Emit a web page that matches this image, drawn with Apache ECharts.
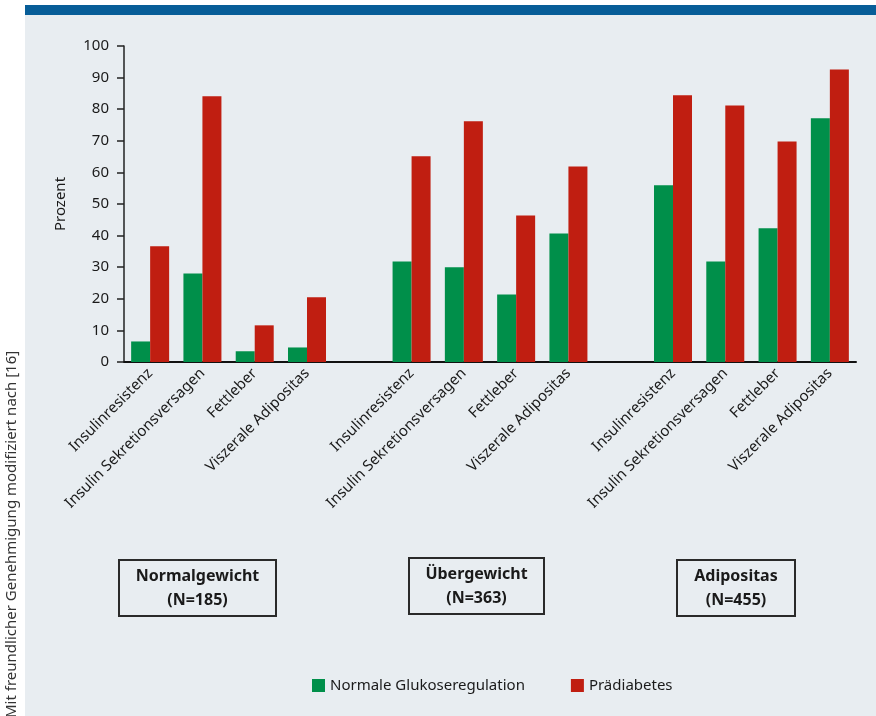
<!DOCTYPE html>
<html>
<head>
<meta charset="utf-8">
<script src="https://cdn.jsdelivr.net/npm/echarts@6/dist/echarts.min.js"></script>
<style>
html, body { margin: 0; padding: 0; background: #ffffff; }
#chart { width: 876px; height: 716px; }
</style>
</head>
<body>
<div id="chart"></div>
<script>
// Kategorien (leere Einträge = Abstand zwischen den Gruppen)
var categories = [
    'Insulinresistenz', 'Insulin Sekretionsversagen', 'Fettleber', 'Viszerale Adipositas', '',
    'Insulinresistenz', 'Insulin Sekretionsversagen', 'Fettleber', 'Viszerale Adipositas', '',
    'Insulinresistenz', 'Insulin Sekretionsversagen', 'Fettleber', 'Viszerale Adipositas'
];
var normalValues = [6.5, 28, 3.4, 4.6, '-', 31.8, 30, 21.4, 40.7, '-', 55.9, 31.8, 42.3, 77.1];
var praeValues = [36.6, 84.1, 11.6, 20.5, '-', 65.1, 76.2, 46.4, 61.9, '-', 84.4, 81.2, 69.8, 92.6];
var seriesNames = ['Normale Glukoseregulation', 'Prädiabetes'];
var groupNames = ['Normalgewicht', 'Übergewicht', 'Adipositas'];
var groupN = ['(N=185)', '(N=363)', '(N=455)'];
var yTicks = [0, 10, 20, 30, 40, 50, 60, 70, 80, 90, 100];

var fontFam = '"Noto Sans", "Open Sans", sans-serif';
var textColor = '#1a1a1a';

function groupBox(x, y, w, h, i) {
    return {
        type: 'group',
        children: [
            {
                type: 'rect',
                shape: { x: x, y: y, width: w, height: h },
                style: { fill: 'none', stroke: '#2a2a2a', lineWidth: 2 }
            },
            {
                type: 'text',
                x: x + w / 2, y: y + h / 2,
                style: {
                    text: groupNames[i] + '\n' + groupN[i],
                    font: 'bold 16px ' + fontFam,
                    fill: textColor,
                    align: 'center',
                    verticalAlign: 'middle',
                    lineHeight: 24
                }
            }
        ]
    };
}

function drawChart() {
    var myChart = echarts.init(document.getElementById('chart'));

    var option = {
        animation: false,
        backgroundColor: '#ffffff',
        color: ['#008f4a', '#c01e11'],
        textStyle: { fontFamily: fontFam },
        graphic: [
            // Hintergrundfläche + blaue Linie oben
            { type: 'rect', z: -10, shape: { x: 25, y: 15, width: 851, height: 701 }, style: { fill: '#e8edf1' } },
            { type: 'rect', z: -10, shape: { x: 25, y: 5, width: 851, height: 10 }, style: { fill: '#075d98' } },
            {
                type: 'text',
                x: 12, y: 718,
                rotation: Math.PI / 2,
                style: {
                    text: 'Mit freundlicher Genehmigung modifiziert nach [16]',
                    font: '15px ' + fontFam,
                    fill: '#333333',
                    align: 'left',
                    verticalAlign: 'middle'
                }
            },
            groupBox(119, 560, 157, 56, 0),
            groupBox(409, 558, 135, 56, 1),
            groupBox(677, 560, 118, 56, 2)
        ],
        legend: {
            data: seriesNames,
            left: 307,
            top: 673,
            itemWidth: 13,
            itemHeight: 13,
            itemGap: 46,
            icon: 'rect',
            textStyle: { fontSize: 15, color: textColor, fontFamily: fontFam }
        },
        grid: { left: 124, right: 20, top: 46, bottom: 354, containLabel: false },
        xAxis: {
            type: 'category',
            data: categories,
            axisLine: { lineStyle: { color: '#111111', width: 2 } },
            axisTick: { show: false },
            axisLabel: {
                interval: 0,
                rotate: 45,
                margin: 9,
                fontSize: 15,
                color: textColor,
                fontFamily: fontFam
            }
        },
        yAxis: {
            type: 'value',
            min: 0,
            max: 100,
            interval: 10,
            name: 'Prozent',
            nameLocation: 'middle',
            nameGap: 56,
            nameRotate: 90,
            nameTextStyle: { fontSize: 15, color: textColor, fontFamily: fontFam },
            axisLine: { show: true, lineStyle: { color: '#222222', width: 1.5 } },
            axisTick: { show: true, length: 7, lineStyle: { color: '#222222', width: 1.5 } },
            axisLabel: {
                margin: 15,
                fontSize: 15,
                color: textColor,
                fontFamily: fontFam,
                formatter: function (v) { return yTicks.indexOf(v) >= 0 ? String(v) : ''; }
            },
            splitLine: { show: false }
        },
        series: [
            { name: seriesNames[0], type: 'bar', data: normalValues, barWidth: 19, barGap: '0%' },
            { name: seriesNames[1], type: 'bar', data: praeValues, barWidth: 19, barGap: '0%' }
        ]
    };

    myChart.setOption(option);
}

drawChart();
</script>
</body>
</html>
